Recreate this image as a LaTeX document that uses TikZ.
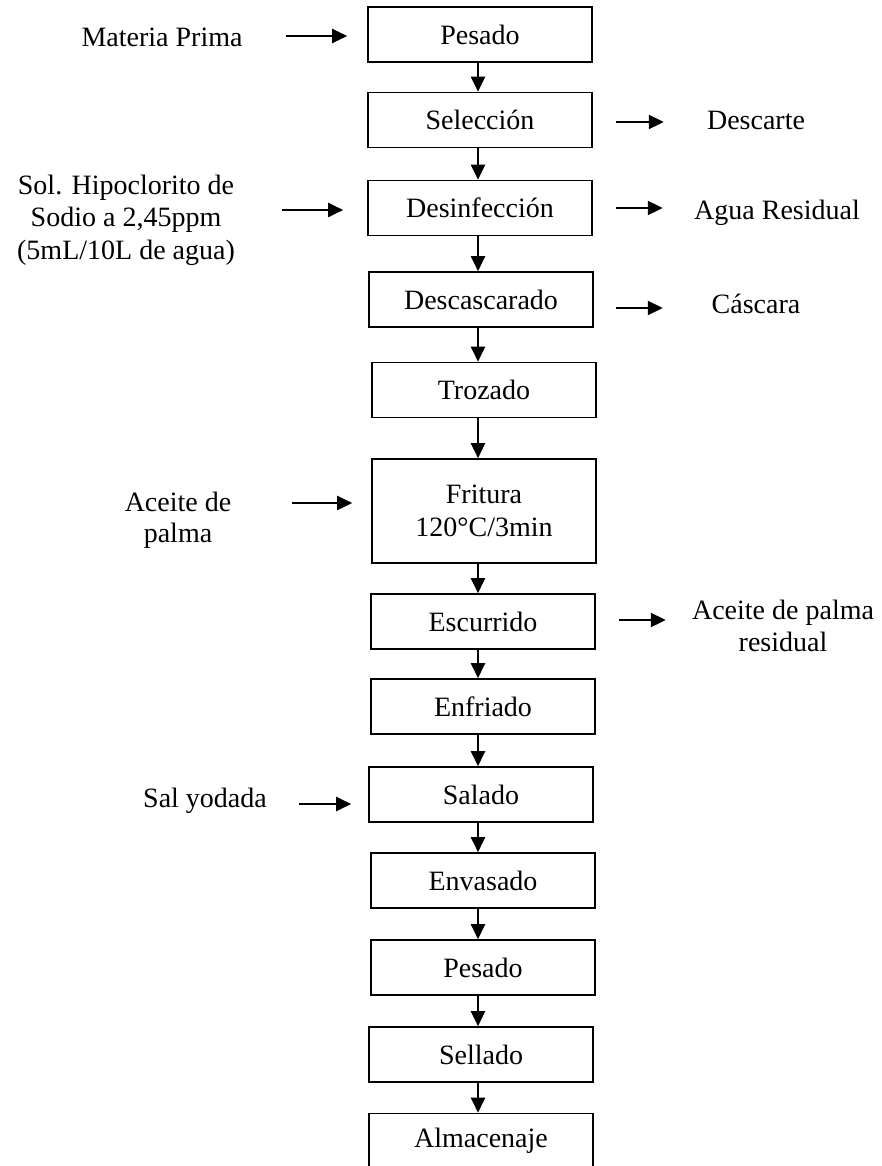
\documentclass[tikz,border=0pt]{standalone}
\usepackage{fontspec}
\setmainfont{Liberation Serif}
\usetikzlibrary{arrows.meta}
\begin{document}
\begin{tikzpicture}[x=0.5pt,y=-0.5pt,
  every node/.style={font=\fontsize{14}{16.25}\selectfont, inner sep=0pt},
  stepbox/.style={draw, line width=0.8pt, minimum width=112pt, minimum height=27.5pt, align=center},
  lbl/.style={align=center},
  arr/.style={line width=1pt, -{Triangle[length=7.5pt,width=7pt]}}]
\useasboundingbox (0,0) rectangle (882,1166);

% process steps
\node[stepbox] (p1)  at (480,34.5)  {Pesado};
\node[stepbox] (p2)  at (480,120)   {Selección};
\node[stepbox] (p3)  at (480,208)   {Desinfección};
\node[stepbox] (p4)  at (481,299.5) {Descascarado};
\node[stepbox] (p5)  at (484,390)   {Trozado};
\node[stepbox, minimum height=52pt] (p6) at (484,511) {Fritura\\[0.5pt]120°C/3min};
\node[stepbox] (p7)  at (483,621.5) {Escurrido};
\node[stepbox] (p8)  at (483,706.5) {Enfriado};
\node[stepbox] (p9)  at (481,794.5) {Salado};
\node[stepbox] (p10) at (483,880.5) {Envasado};
\node[stepbox] (p11) at (483,967.5) {Pesado};
\node[stepbox] (p12) at (481,1054.5){Sellado};
\node[stepbox] (p13) at (481,1141)  {Almacenaje};

% main flow axis
\coordinate (ax) at (478,0);
\foreach \a/\b in {p1/p2,p2/p3,p3/p4,p4/p5,p5/p6,p6/p7,p7/p8,p8/p9,p9/p10,p10/p11,p11/p12,p12/p13}
  \draw[arr] (ax |- \a.south) -- (ax |- \b.north);

% inputs
\node[lbl] (i1) at (162,37)  {Materia Prima};
\node[lbl] (i2) at (126,220) {Sol. Hipoclorito de\\Sodio a 2,45ppm\\(5mL/10L de agua)};
\node[lbl, font=\fontsize{14}{15.5}\selectfont] (i3) at (178,520) {Aceite de\\palma};
\node[lbl] (i4) at (205,801) {Sal yodada};

\draw[arr] ([xshift=-40.5pt,yshift=-0.75pt]p1.west) -- ([xshift=-10pt,yshift=-0.75pt]p1.west);
\draw[arr] ([xshift=-42.5pt,yshift=-1pt]p3.west) -- ([xshift=-12pt,yshift=-1pt]p3.west);
\draw[arr] ([xshift=-39.5pt,yshift=4pt]p6.west) -- ([xshift=-9.5pt,yshift=4pt]p6.west);
\draw[arr] ([xshift=-34.5pt,yshift=-4.75pt]p9.west) -- ([xshift=-8.5pt,yshift=-4.75pt]p9.west);

% outputs
\node[lbl] (o1) at (756,120) {Descarte};
\node[lbl] (o2) at (777,213) {Agua Residual};
\node[lbl] (o3) at (756,304) {Cáscara};
\node[lbl] (o4) at (783,626) {Aceite de palma\\residual};

\draw[arr] ([xshift=11.5pt,yshift=-1pt]p2.east) -- ([xshift=35.5pt,yshift=-1pt]p2.east);
\draw[arr] ([xshift=11.5pt]p3.east) -- ([xshift=35pt]p3.east);
\draw[arr] ([xshift=11pt,yshift=-4.25pt]p4.east) -- ([xshift=34.5pt,yshift=-4.25pt]p4.east);
\draw[arr] ([xshift=11.5pt,yshift=0.75pt]p7.east) -- ([xshift=35pt,yshift=0.75pt]p7.east);
\end{tikzpicture}
\end{document}
